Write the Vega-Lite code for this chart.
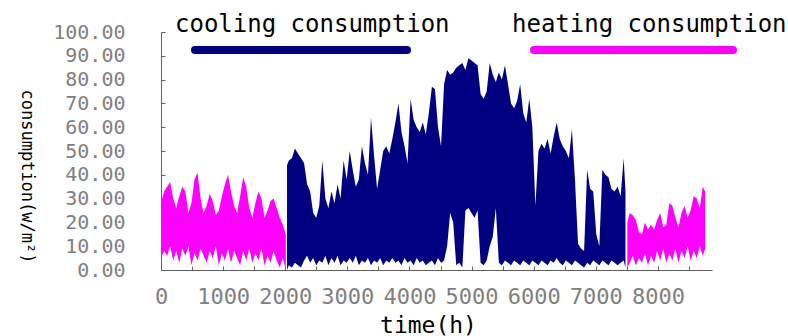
{
  "$schema": "https://vega.github.io/schema/vega-lite/v6.json",
  "width": 551,
  "height": 238,
  "autosize": {"type": "none"},
  "padding": {"left": 161, "top": 32, "right": 76, "bottom": 66},
  "background": "white",
  "config": {"view": {"stroke": null}, "font": "DejaVu Sans Mono"},
  "data": {"values": [
    {"t":0,"hi":28,"lo":5,"s":"heating","p":1},{"t":49,"hi":33,"lo":8,"s":"heating","p":1},{"t":98,"hi":35,"lo":6,"s":"heating","p":1},{"t":147,"hi":37,"lo":10,"s":"heating","p":1},{"t":196,"hi":30,"lo":4,"s":"heating","p":1},{"t":245,"hi":26,"lo":8,"s":"heating","p":1},{"t":294,"hi":31,"lo":3,"s":"heating","p":1},{"t":343,"hi":35,"lo":9,"s":"heating","p":1},{"t":392,"hi":33,"lo":6,"s":"heating","p":1},{"t":441,"hi":24,"lo":10,"s":"heating","p":1},{"t":490,"hi":28,"lo":2,"s":"heating","p":1},{"t":539,"hi":38,"lo":7,"s":"heating","p":1},{"t":588,"hi":41,"lo":4,"s":"heating","p":1},{"t":637,"hi":30,"lo":9,"s":"heating","p":1},{"t":686,"hi":24,"lo":6,"s":"heating","p":1},{"t":735,"hi":27,"lo":3,"s":"heating","p":1},{"t":784,"hi":32,"lo":8,"s":"heating","p":1},{"t":833,"hi":29,"lo":5,"s":"heating","p":1},{"t":882,"hi":23,"lo":10,"s":"heating","p":1},{"t":931,"hi":25,"lo":2,"s":"heating","p":1},{"t":980,"hi":31,"lo":7,"s":"heating","p":1},{"t":1029,"hi":36,"lo":4,"s":"heating","p":1},{"t":1078,"hi":40,"lo":9,"s":"heating","p":1},{"t":1127,"hi":33,"lo":3,"s":"heating","p":1},{"t":1176,"hi":27,"lo":8,"s":"heating","p":1},{"t":1225,"hi":24,"lo":5,"s":"heating","p":1},{"t":1274,"hi":31,"lo":2,"s":"heating","p":1},{"t":1323,"hi":39,"lo":8,"s":"heating","p":1},{"t":1372,"hi":35,"lo":4,"s":"heating","p":1},{"t":1421,"hi":26,"lo":9,"s":"heating","p":1},{"t":1470,"hi":22,"lo":3,"s":"heating","p":1},{"t":1519,"hi":28,"lo":7,"s":"heating","p":1},{"t":1568,"hi":33,"lo":4,"s":"heating","p":1},{"t":1617,"hi":30,"lo":9,"s":"heating","p":1},{"t":1666,"hi":22,"lo":2,"s":"heating","p":1},{"t":1715,"hi":25,"lo":6,"s":"heating","p":1},{"t":1764,"hi":29,"lo":3,"s":"heating","p":1},{"t":1813,"hi":30,"lo":8,"s":"heating","p":1},{"t":1862,"hi":26,"lo":4,"s":"heating","p":1},{"t":1911,"hi":22,"lo":1,"s":"heating","p":1},{"t":1960,"hi":19,"lo":5,"s":"heating","p":1},{"t":2009,"hi":15,"lo":0,"s":"heating","p":1},
    {"t":2029,"hi":44,"lo":0,"s":"cooling","p":1},{"t":2058,"hi":46,"lo":2,"s":"cooling","p":1},{"t":2107,"hi":47,"lo":1,"s":"cooling","p":1},{"t":2156,"hi":51,"lo":3,"s":"cooling","p":1},{"t":2205,"hi":49,"lo":2,"s":"cooling","p":1},{"t":2254,"hi":47,"lo":1,"s":"cooling","p":1},{"t":2303,"hi":45,"lo":4,"s":"cooling","p":1},{"t":2352,"hi":36,"lo":6,"s":"cooling","p":1},{"t":2401,"hi":33,"lo":3,"s":"cooling","p":1},{"t":2450,"hi":24,"lo":5,"s":"cooling","p":1},{"t":2499,"hi":22,"lo":2,"s":"cooling","p":1},{"t":2548,"hi":27,"lo":4,"s":"cooling","p":1},{"t":2597,"hi":46,"lo":3,"s":"cooling","p":1},{"t":2646,"hi":30,"lo":6,"s":"cooling","p":1},{"t":2695,"hi":26,"lo":2,"s":"cooling","p":1},{"t":2744,"hi":33,"lo":5,"s":"cooling","p":1},{"t":2793,"hi":28,"lo":3,"s":"cooling","p":1},{"t":2842,"hi":36,"lo":6,"s":"cooling","p":1},{"t":2891,"hi":30,"lo":2,"s":"cooling","p":1},{"t":2940,"hi":46,"lo":4,"s":"cooling","p":1},{"t":2989,"hi":38,"lo":3,"s":"cooling","p":1},{"t":3038,"hi":50,"lo":5,"s":"cooling","p":1},{"t":3087,"hi":42,"lo":3,"s":"cooling","p":1},{"t":3136,"hi":35,"lo":6,"s":"cooling","p":1},{"t":3185,"hi":38,"lo":2,"s":"cooling","p":1},{"t":3234,"hi":52,"lo":4,"s":"cooling","p":1},{"t":3283,"hi":45,"lo":3,"s":"cooling","p":1},{"t":3332,"hi":40,"lo":5,"s":"cooling","p":1},{"t":3381,"hi":64,"lo":2,"s":"cooling","p":1},{"t":3430,"hi":48,"lo":4,"s":"cooling","p":1},{"t":3479,"hi":34,"lo":3,"s":"cooling","p":1},{"t":3528,"hi":42,"lo":5,"s":"cooling","p":1},{"t":3577,"hi":50,"lo":2,"s":"cooling","p":1},{"t":3626,"hi":52,"lo":4,"s":"cooling","p":1},{"t":3675,"hi":49,"lo":3,"s":"cooling","p":1},{"t":3724,"hi":55,"lo":5,"s":"cooling","p":1},{"t":3773,"hi":62,"lo":3,"s":"cooling","p":1},{"t":3822,"hi":70,"lo":4,"s":"cooling","p":1},{"t":3871,"hi":58,"lo":2,"s":"cooling","p":1},{"t":3920,"hi":52,"lo":5,"s":"cooling","p":1},{"t":3969,"hi":45,"lo":3,"s":"cooling","p":1},{"t":4018,"hi":72,"lo":4,"s":"cooling","p":1},{"t":4067,"hi":63,"lo":2,"s":"cooling","p":1},{"t":4116,"hi":60,"lo":5,"s":"cooling","p":1},{"t":4165,"hi":58,"lo":3,"s":"cooling","p":1},{"t":4214,"hi":62,"lo":4,"s":"cooling","p":1},{"t":4263,"hi":57,"lo":2,"s":"cooling","p":1},{"t":4312,"hi":66,"lo":3,"s":"cooling","p":1},{"t":4361,"hi":77,"lo":4,"s":"cooling","p":1},{"t":4410,"hi":76,"lo":2,"s":"cooling","p":1},{"t":4459,"hi":60,"lo":5,"s":"cooling","p":1},{"t":4508,"hi":52,"lo":3,"s":"cooling","p":1},{"t":4557,"hi":78,"lo":4,"s":"cooling","p":1},{"t":4606,"hi":84,"lo":10,"s":"cooling","p":1},{"t":4655,"hi":82,"lo":24,"s":"cooling","p":1},{"t":4704,"hi":83,"lo":20,"s":"cooling","p":1},{"t":4753,"hi":85,"lo":2,"s":"cooling","p":1},{"t":4802,"hi":86,"lo":3,"s":"cooling","p":1},{"t":4851,"hi":87,"lo":1,"s":"cooling","p":1},{"t":4900,"hi":84,"lo":25,"s":"cooling","p":1},{"t":4949,"hi":89,"lo":26,"s":"cooling","p":1},{"t":4998,"hi":88,"lo":24,"s":"cooling","p":1},{"t":5047,"hi":87,"lo":22,"s":"cooling","p":1},{"t":5096,"hi":86,"lo":25,"s":"cooling","p":1},{"t":5145,"hi":74,"lo":3,"s":"cooling","p":1},{"t":5194,"hi":72,"lo":2,"s":"cooling","p":1},{"t":5243,"hi":75,"lo":4,"s":"cooling","p":1},{"t":5292,"hi":87,"lo":10,"s":"cooling","p":1},{"t":5341,"hi":82,"lo":14,"s":"cooling","p":1},{"t":5390,"hi":79,"lo":26,"s":"cooling","p":1},{"t":5439,"hi":83,"lo":3,"s":"cooling","p":1},{"t":5488,"hi":80,"lo":2,"s":"cooling","p":1},{"t":5537,"hi":86,"lo":4,"s":"cooling","p":1},{"t":5586,"hi":78,"lo":3,"s":"cooling","p":1},{"t":5635,"hi":70,"lo":2,"s":"cooling","p":1},{"t":5684,"hi":68,"lo":4,"s":"cooling","p":1},{"t":5733,"hi":71,"lo":3,"s":"cooling","p":1},{"t":5782,"hi":78,"lo":2,"s":"cooling","p":1},{"t":5831,"hi":66,"lo":4,"s":"cooling","p":1},{"t":5880,"hi":62,"lo":3,"s":"cooling","p":1},{"t":5929,"hi":72,"lo":2,"s":"cooling","p":1},{"t":5978,"hi":60,"lo":4,"s":"cooling","p":1},{"t":6027,"hi":27,"lo":3,"s":"cooling","p":1},{"t":6076,"hi":50,"lo":2,"s":"cooling","p":1},{"t":6125,"hi":53,"lo":4,"s":"cooling","p":1},{"t":6174,"hi":51,"lo":3,"s":"cooling","p":1},{"t":6223,"hi":55,"lo":2,"s":"cooling","p":1},{"t":6272,"hi":49,"lo":4,"s":"cooling","p":1},{"t":6321,"hi":56,"lo":3,"s":"cooling","p":1},{"t":6370,"hi":62,"lo":5,"s":"cooling","p":1},{"t":6419,"hi":55,"lo":3,"s":"cooling","p":1},{"t":6468,"hi":52,"lo":2,"s":"cooling","p":1},{"t":6517,"hi":50,"lo":4,"s":"cooling","p":1},{"t":6566,"hi":47,"lo":3,"s":"cooling","p":1},{"t":6615,"hi":59,"lo":2,"s":"cooling","p":1},{"t":6664,"hi":38,"lo":4,"s":"cooling","p":1},{"t":6713,"hi":11,"lo":3,"s":"cooling","p":1},{"t":6762,"hi":9,"lo":2,"s":"cooling","p":1},{"t":6811,"hi":8,"lo":1,"s":"cooling","p":1},{"t":6860,"hi":42,"lo":3,"s":"cooling","p":1},{"t":6909,"hi":34,"lo":2,"s":"cooling","p":1},{"t":6958,"hi":33,"lo":4,"s":"cooling","p":1},{"t":7007,"hi":15,"lo":3,"s":"cooling","p":1},{"t":7056,"hi":10,"lo":2,"s":"cooling","p":1},{"t":7105,"hi":42,"lo":4,"s":"cooling","p":1},{"t":7154,"hi":40,"lo":3,"s":"cooling","p":1},{"t":7203,"hi":39,"lo":2,"s":"cooling","p":1},{"t":7252,"hi":34,"lo":4,"s":"cooling","p":1},{"t":7301,"hi":33,"lo":3,"s":"cooling","p":1},{"t":7350,"hi":35,"lo":2,"s":"cooling","p":1},{"t":7399,"hi":31,"lo":3,"s":"cooling","p":1},{"t":7448,"hi":47,"lo":4,"s":"cooling","p":1},{"t":7477,"hi":33,"lo":1,"s":"cooling","p":1},
    {"t":7507,"hi":20,"lo":1,"s":"heating","p":2},{"t":7546,"hi":24,"lo":3,"s":"heating","p":2},{"t":7595,"hi":23,"lo":6,"s":"heating","p":2},{"t":7644,"hi":21,"lo":2,"s":"heating","p":2},{"t":7693,"hi":16,"lo":5,"s":"heating","p":2},{"t":7742,"hi":15,"lo":3,"s":"heating","p":2},{"t":7791,"hi":20,"lo":7,"s":"heating","p":2},{"t":7840,"hi":17,"lo":2,"s":"heating","p":2},{"t":7889,"hi":19,"lo":6,"s":"heating","p":2},{"t":7938,"hi":17,"lo":3,"s":"heating","p":2},{"t":7987,"hi":21,"lo":8,"s":"heating","p":2},{"t":8036,"hi":24,"lo":4,"s":"heating","p":2},{"t":8085,"hi":18,"lo":9,"s":"heating","p":2},{"t":8134,"hi":19,"lo":3,"s":"heating","p":2},{"t":8183,"hi":28,"lo":7,"s":"heating","p":2},{"t":8232,"hi":27,"lo":4,"s":"heating","p":2},{"t":8281,"hi":22,"lo":9,"s":"heating","p":2},{"t":8330,"hi":18,"lo":3,"s":"heating","p":2},{"t":8379,"hi":24,"lo":8,"s":"heating","p":2},{"t":8428,"hi":27,"lo":5,"s":"heating","p":2},{"t":8477,"hi":22,"lo":10,"s":"heating","p":2},{"t":8526,"hi":25,"lo":4,"s":"heating","p":2},{"t":8575,"hi":31,"lo":8,"s":"heating","p":2},{"t":8624,"hi":30,"lo":5,"s":"heating","p":2},{"t":8673,"hi":26,"lo":10,"s":"heating","p":2},{"t":8722,"hi":35,"lo":6,"s":"heating","p":2},{"t":8760,"hi":33,"lo":9,"s":"heating","p":2}
  ]},
  "encoding": {
    "x": {"field": "t", "type": "quantitative",
      "scale": {"domain": [0, 8870], "nice": false, "zero": false},
      "axis": {"title": "time(h)", "values": [0,500,1000,1500,2000,2500,3000,3500,4000,4500,5000,5500,6000,6500,7000,7500,8000,8500],
        "format": "d", "labelExpr": "datum.value % 1000 == 0 ? datum.label : ''",
        "grid": false, "domainColor": "#606060", "tickColor": "#606060", "tickSize": -4,
        "labelFont": "DejaVu Sans Mono", "labelFontSize": 22, "labelColor": "#808080", "labelPadding": 20,
        "labelFlush": false, "labelOverlap": false,
        "titleFont": "DejaVu Sans Mono", "titleFontSize": 23, "titleFontWeight": "normal", "titleColor": "black",
        "titleX": 267, "titleY": 55, "titleBaseline": "middle", "titleAlign": "center"}},
    "y": {"field": "hi", "type": "quantitative",
      "scale": {"domain": [0, 100], "nice": false},
      "axis": {"title": "consumption(w/m²)", "values": [0,10,20,30,40,50,60,70,80,90,100],
        "format": ".2f", "grid": false, "domainColor": "#606060", "tickColor": "#606060", "tickSize": -4,
        "labelFont": "DejaVu Sans Mono", "labelFontSize": 20, "labelColor": "#808080", "labelPadding": 40,
        "labelOverlap": false,
        "titleFont": "DejaVu Sans Mono", "titleFontSize": 17, "titleFontWeight": "normal", "titleColor": "black",
        "titleAngle": 90, "titleX": -135, "titleY": 144, "titleBaseline": "middle", "titleAlign": "center"}},
    "y2": {"field": "lo"}
  },
  "layer": [
    {
      "transform": [{"filter": "datum.s == 'cooling'"}],
      "mark": {"type": "area"},
      "encoding": {
        "detail": {"field": "p"},
        "color": {"field": "s", "type": "nominal",
          "scale": {"domain": ["cooling"], "range": ["#000080"]},
          "legend": {"title": "cooling consumption", "orient": "none", "legendX": 14, "legendY": -19,
            "direction": "horizontal", "padding": 0,
            "titleFont": "DejaVu Sans Mono", "titleFontSize": 24, "titleFontWeight": "normal", "titleColor": "black", "titlePadding": 4, "titleLimit": 600,
            "symbolType": "stroke", "symbolSize": 44944, "symbolStrokeWidth": 8, "symbolStrokeColor": "#000080", "symbolOffset": 16,
            "labelExpr": "''", "labelOffset": 0,
            "encode": {"symbols": {"update": {"strokeCap": {"value": "round"}, "y": {"value": 9}}}}}}
      }
    },
    {
      "transform": [{"filter": "datum.s == 'heating'"}],
      "mark": {"type": "area"},
      "encoding": {
        "detail": {"field": "p"},
        "color": {"field": "s", "type": "nominal",
          "scale": {"domain": ["heating"], "range": ["#ff00ff"]},
          "legend": {"title": "heating consumption", "orient": "none", "legendX": 351, "legendY": -19,
            "direction": "horizontal", "padding": 0,
            "titleFont": "DejaVu Sans Mono", "titleFontSize": 24, "titleFontWeight": "normal", "titleColor": "black", "titlePadding": 4, "titleLimit": 600,
            "symbolType": "stroke", "symbolSize": 39601, "symbolStrokeWidth": 8, "symbolStrokeColor": "#ff00ff", "symbolOffset": 18,
            "labelExpr": "''", "labelOffset": 0,
            "encode": {"symbols": {"update": {"strokeCap": {"value": "round"}, "y": {"value": 9}}}}}}
      }
    }
  ],
  "resolve": {"scale": {"color": "independent"}}
}
